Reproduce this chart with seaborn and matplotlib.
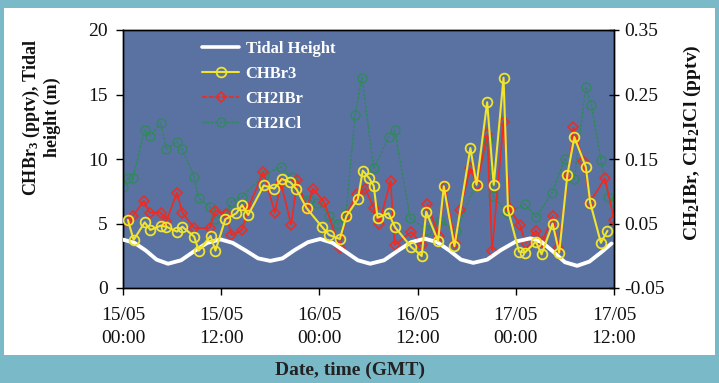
import matplotlib
matplotlib.use("Agg")
import matplotlib.pyplot as plt
import seaborn as sns
import pandas as pd
from matplotlib.patches import Rectangle
from matplotlib.lines import Line2D

# ---------------- data (hours after 15/05 00:00 GMT) ----------------
tide_hours = [0, 1.4, 2.8, 4.1, 5.5, 7.1, 8.7, 10.3, 11.9, 13.4, 15.0, 16.5, 18.0, 19.5,
              21.0, 22.6, 24.1, 25.6, 27.1, 28.7, 30.2, 31.9, 33.5, 35.2, 36.9, 38.4,
              39.9, 41.3, 42.8, 44.5, 46.2, 48.0, 49.8, 51.2, 52.6, 54.0, 55.5, 57.0,
              58.5, 59.7]
tide_height = [3.75, 3.5, 2.9, 2.2, 1.88, 2.15, 2.85, 3.5, 3.77, 3.5, 2.9, 2.3, 2.1, 2.3,
               2.95, 3.55, 3.8, 3.5, 2.85, 2.15, 1.88, 2.15, 2.85, 3.55, 3.82, 3.55,
               2.9, 2.2, 1.95, 2.2, 2.95, 3.6, 3.85, 3.55, 2.8, 2.0, 1.72, 2.05,
               2.8, 3.45]

chbr3_hours = [0.6, 1.3, 2.65, 3.35, 4.6, 5.3, 6.6, 7.25, 8.7, 9.25, 10.7, 11.3, 12.5,
               13.85, 14.55, 15.3, 17.2, 18.5, 19.4, 20.45, 21.2, 22.45, 24.3, 25.2,
               26.5, 27.3, 28.7, 29.3, 30.1, 30.65, 31.1, 32.45, 33.25, 35.2, 36.5,
               37.05, 38.5, 39.2, 40.5, 42.45, 43.2, 44.5, 45.3, 46.5, 47.05, 48.4,
               49.1, 50.45, 51.15, 52.5, 53.3, 54.3, 55.15, 56.55, 57.1, 58.4, 59.2]
chbr3 = [5.27, 3.72, 5.09, 4.5, 4.83, 4.75, 4.37, 4.75, 3.98, 2.89, 4.03, 2.89, 5.33,
         5.79, 6.43, 5.66, 7.95, 7.7, 8.45, 8.2, 7.65, 6.18, 4.75, 4.1,
         3.8, 5.58, 6.9, 9.1, 8.5, 7.9, 5.45, 5.8, 4.7, 3.2, 2.48,
         5.92, 3.63, 7.88, 3.23, 10.85, 8.0, 14.4, 8.0, 16.3, 6.05, 2.81,
         2.74, 3.59, 2.61, 5.0, 2.74, 8.76, 11.7, 9.4, 6.6, 3.5, 4.44]

ch2ibr_hours = [0.53, 1.2, 2.55, 3.25, 4.6, 5.3, 6.6, 7.25, 8.7, 10.6, 11.3, 12.6, 13.25,
                14.55, 15.3, 17.15, 18.55, 19.3, 20.55, 21.3, 22.45, 23.2, 24.55, 26.5,
                27.25, 28.6, 29.6, 30.65, 31.3, 32.7, 33.2, 35.25, 36.55, 37.2, 38.6,
                39.3, 40.6, 41.15, 42.45, 43.25, 44.5, 45.1, 46.5, 47.3, 48.5, 49.2,
                50.45, 51.25, 52.5, 53.2, 54.4, 55.05, 56.25, 57.1, 58.9, 60.0]
ch2ibr = [0.054, 0.062, 0.085, 0.067, 0.067, 0.054, 0.098, 0.067, 0.043, 0.043, 0.070,
          0.065, 0.032, 0.040, 0.074, 0.130, 0.067, 0.113, 0.048, 0.117, 0.072, 0.104,
          0.084, 0.012, 0.062, 0.096, 0.104, 0.074, 0.050, 0.116, 0.017, 0.037, 0.017,
          0.080, 0.031, 0.108, 0.020, 0.071, 0.136, 0.110, 0.188, 0.008, 0.208, 0.072,
          0.048, 0.020, 0.039, 0.022, 0.062, 0.012, 0.125, 0.199, 0.147, 0.084, 0.120,
          0.056]

ch2icl_hours = [0.0, 0.6, 1.2, 2.65, 3.35, 4.6, 5.3, 6.6, 7.25, 8.7, 9.25, 10.6, 11.3,
                12.65, 13.25, 14.55, 17.2, 19.25, 20.6, 21.2, 22.7, 23.75, 25.2, 26.3,
                27.25, 28.35, 29.2, 30.65, 32.5, 33.2, 35.1, 37.2, 38.75, 40.75, 43.05,
                44.55, 45.25, 46.95, 49.1, 50.5, 52.45, 54.0, 55.15, 56.55, 57.25, 58.4,
                59.3, 60.0]
ch2icl = [0.106, 0.120, 0.120, 0.195, 0.186, 0.206, 0.165, 0.177, 0.165, 0.122, 0.089,
          0.076, 0.057, 0.066, 0.084, 0.091, 0.125, 0.138, 0.122, 0.104, 0.086, 0.082,
          0.062, 0.049, 0.064, 0.218, 0.276, 0.136, 0.184, 0.195, 0.058, 0.040, 0.054,
          0.038, 0.110, 0.180, 0.092, 0.066, 0.080, 0.060, 0.098, 0.150, 0.119, 0.262,
          0.234, 0.148, 0.091, 0.084]

x_tick_hours = [0, 12, 24, 36, 48, 60]
x_tick_labels = ["15/05\n00:00", "15/05\n12:00", "16/05\n00:00",
                 "16/05\n12:00", "17/05\n00:00", "17/05\n12:00"]
left_ticks = [0, 5, 10, 15, 20]
right_ticks = [-0.05, 0.05, 0.15, 0.25, 0.35]

# ---------------- style ----------------
sns.set_theme(style="white")
plt.rcParams['font.family'] = ['Liberation Serif', 'DejaVu Serif']
plt.rcParams['mathtext.fontset'] = 'custom'
plt.rcParams['mathtext.rm'] = 'Liberation Serif:bold'
plt.rcParams['mathtext.bf'] = 'Liberation Serif:bold'
plt.rcParams['mathtext.it'] = 'Liberation Serif:bold'

W, H = 719, 383
fig = plt.figure(figsize=(W / 100, H / 100), dpi=100)
fig.patch.set_facecolor('#7ab9c8')
fig.add_artist(Rectangle((4 / W, 1 - 355 / H), (715 - 4) / W, (355 - 8) / H,
                         transform=fig.transFigure, facecolor='white',
                         edgecolor='none', zorder=0))

ax = fig.add_axes([123 / W, 1 - 288 / H, (614 - 123) / W, (288 - 30) / H])
ax2 = ax.twinx()

df_tide = pd.DataFrame({"h": tide_hours, "v": tide_height})
df_br3 = pd.DataFrame({"h": chbr3_hours, "v": chbr3})
df_ibr = pd.DataFrame({"h": ch2ibr_hours, "v": ch2ibr})
df_icl = pd.DataFrame({"h": ch2icl_hours, "v": ch2icl})

yellow = '#f0e42c'
red = '#f02a20'
green = '#2e8a5a'
panel = '#5a72a1'

sns.lineplot(data=df_tide, x="h", y="v", ax=ax, color='white', lw=2.8,
             estimator=None, legend=False, zorder=3)
sns.lineplot(data=df_icl, x="h", y="v", ax=ax2, color=green, lw=1.0,
             linestyle=(0, (2, 1)), marker='o', markersize=6.5,
             markerfacecolor='none', markeredgecolor=green, markeredgewidth=0.9,
             estimator=None, legend=False, zorder=2)
sns.lineplot(data=df_ibr, x="h", y="v", ax=ax2, color=red, lw=1.2,
             marker='D', markersize=5.5, markerfacecolor='none',
             markeredgecolor=red, markeredgewidth=1.1,
             estimator=None, legend=False, zorder=3)
sns.lineplot(data=df_br3, x="h", y="v", ax=ax, color=yellow, lw=1.5,
             marker='o', markersize=7, markerfacecolor='none',
             markeredgecolor=yellow, markeredgewidth=1.3,
             estimator=None, legend=False, zorder=4)

# background on the twin (lower) axes, left axes drawn on top
ax.set_zorder(2)
ax2.set_zorder(1)
ax.patch.set_visible(False)
ax2.patch.set_visible(True)
ax2.set_facecolor(panel)

ax.set_xlim(0, 60)
ax.set_ylim(0, 20)
ax2.set_ylim(-0.05, 0.35)
ax.set_xticks(x_tick_hours)
ax.set_xticklabels(x_tick_labels)
ax.set_yticks(left_ticks)
ax.set_yticklabels([str(t) for t in left_ticks])
ax2.set_yticks(right_ticks)
ax2.set_yticklabels([f"{t:.2f}" for t in right_ticks])
ax.set_xlabel("")
ax.set_ylabel("")
ax2.set_ylabel("")

for a in (ax, ax2):
    for s in a.spines.values():
        s.set_color('black')
        s.set_linewidth(1.0)
ax.tick_params(axis='both', which='both', direction='out', length=5, width=1,
               color='black', labelsize=14, labelcolor='#111111',
               bottom=True, left=True)
ax.tick_params(axis='x', pad=9)
ax.tick_params(axis='y', pad=6)
ax2.tick_params(axis='y', direction='inout', length=7, width=1, color='black',
                labelsize=14, labelcolor='#111111', right=True, pad=4)
for lab in ax.get_xticklabels():
    lab.set_linespacing(1.45)

# axis titles
fig.text(41 / W, 1 - 117 / H, "CHBr$_3$ (pptv), Tidal\nheight (m)", rotation=90,
         ha='center', va='center', fontsize=13, fontweight='bold',
         color='#111111', linespacing=1.15)
fig.text(692 / W, 1 - 143 / H, "CH$_2$IBr, CH$_2$ICl (pptv)", rotation=90,
         ha='center', va='center', fontsize=14, fontweight='bold',
         color='#111111')
fig.text(350 / W, 1 - 370 / H, "Date, time (GMT)", ha='center', va='center',
         fontsize=14, fontweight='bold', color='#222222')

handles = [
    Line2D([], [], color='white', lw=2.6),
    Line2D([], [], color=yellow, lw=1.5, marker='o', markersize=7,
           markerfacecolor='none', markeredgecolor=yellow, markeredgewidth=1.3),
    Line2D([], [], color=red, lw=1.2, linestyle=(0, (3, 1)), marker='D',
           markersize=5.5, markerfacecolor='none', markeredgecolor=red,
           markeredgewidth=1.1),
    Line2D([], [], color=green, lw=1.0, linestyle=(0, (2, 1)), marker='o',
           markersize=6.5, markerfacecolor='none', markeredgecolor=green,
           markeredgewidth=0.9),
]
labels = ["Tidal Height", "CHBr3", "CH2IBr", "CH2ICl"]
leg = ax.legend(handles, labels, loc='upper left', bbox_to_anchor=(0.148, 0.985),
                frameon=False, handlelength=2.2, handletextpad=0.4,
                labelspacing=0.55, borderaxespad=0,
                prop={'family': 'Liberation Serif', 'weight': 'bold', 'size': 12})
for t in leg.get_texts():
    t.set_color('white')

fig.savefig("out.png", dpi=100, facecolor=fig.get_facecolor())
